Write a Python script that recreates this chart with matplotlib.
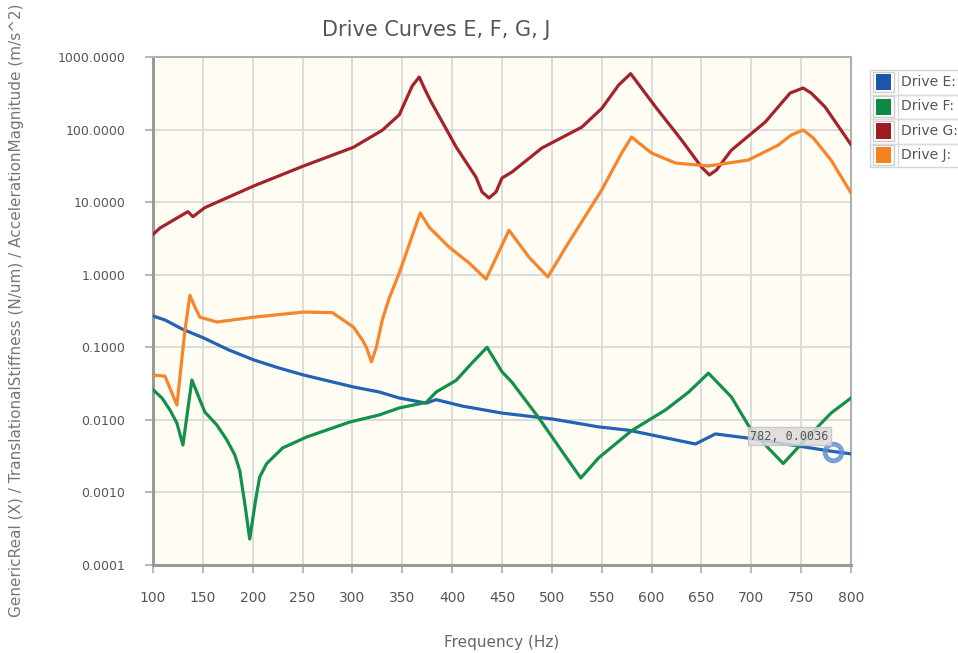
import numpy as np
import matplotlib
matplotlib.use('Agg')
import matplotlib.pyplot as plt
from matplotlib.patches import Rectangle
from matplotlib.ticker import FixedLocator, FuncFormatter, NullLocator

# data (frequency in Hz, magnitude)
freqE = [100, 112, 129, 151, 176, 201, 226, 251, 301, 327, 347, 374, 384, 410, 450, 500, 547, 577, 644, 664, 697,
         780, 800]
valE = [0.27, 0.238, 0.179, 0.134, 0.092, 0.067, 0.052, 0.0415, 0.0284, 0.0242, 0.020, 0.017, 0.019, 0.0155,
        0.0124, 0.0103, 0.008, 0.0072, 0.00465, 0.0064, 0.0056, 0.0037, 0.0034]

freqF = [100, 109, 117, 124, 130, 139, 152, 164, 174, 182, 187, 192, 197, 203, 207, 214, 230, 254, 297, 327, 347,
         374, 384, 404, 420, 435, 450, 460, 487, 514, 529, 547, 580, 614, 637, 657, 680, 700, 732, 754, 780, 800]
valF = [0.026, 0.02, 0.0137, 0.009, 0.0045, 0.0354, 0.0128, 0.0085, 0.0053, 0.0033, 0.002, 0.00071, 0.000228,
        0.0008, 0.00163, 0.0025, 0.0041, 0.0058, 0.0093, 0.0117, 0.0146, 0.0174, 0.0242, 0.035, 0.061, 0.1, 0.046,
        0.033, 0.0106, 0.0031, 0.00158, 0.003, 0.0071, 0.0137, 0.024, 0.044, 0.0207, 0.0072, 0.0025, 0.0053,
        0.0124, 0.02]

freqG = [100, 107, 135, 140, 152, 201, 251, 301, 330, 347, 360, 367, 373, 379, 404, 424, 430, 437, 444, 450, 460,
         490, 530, 550, 567, 579, 589, 604, 630, 650, 658, 665, 680, 714, 739, 752, 760, 774, 800]
valG = [3.6, 4.4, 7.4, 6.3, 8.4, 16.7, 31.5, 57, 98, 160, 400, 530, 350, 240, 57.5, 22, 13.8, 11.4, 13.8, 21.5, 26,
        55.7, 108, 195, 411, 590, 386, 205, 72, 30.5, 23.7, 27.7, 52, 127, 319, 374, 319, 205, 62]

freqJ = [100, 112, 124, 132, 137, 142, 147, 164, 201, 251, 280, 301, 310, 314, 319, 324, 330, 337, 347, 368, 377,
         397, 417, 434, 457, 477, 496, 514, 550, 570, 580, 590, 600, 624, 657, 697, 727, 740, 752, 762, 780, 800]
valJ = [0.0415, 0.04, 0.016, 0.17, 0.52, 0.36, 0.26, 0.223, 0.26, 0.306, 0.3, 0.19, 0.126, 0.1, 0.063, 0.1, 0.24,
        0.48, 1.06, 7.1, 4.5, 2.4, 1.45, 0.87, 4.1, 1.75, 0.93, 2.4, 14.7, 47.5, 79, 61, 47.5, 34.6, 31.5, 38, 61,
        84, 98.6, 77, 38, 13.4]

names = ['Drive E:', 'Drive F:', 'Drive G:', 'Drive J:']
lineColors = ['#2462b4', '#15904a', '#a3232b', '#f6852b']
swatchColors = ['#1c56a8', '#0b8a42', '#9e1b20', '#f58220']

xTicks = list(range(100, 801, 50))
yTicks = [0.0001, 0.001, 0.01, 0.1, 1, 10, 100, 1000]

tipFreq, tipVal = 782, 0.0036

W, H = 958, 653
narrow = ['Liberation Sans Narrow', 'DejaVu Sans Condensed', 'DejaVu Sans']


def px(x, y):  # pixel position (from top-left) -> figure fraction
    return x / W, 1 - y / H


fig = plt.figure(figsize=(W / 100, H / 100), dpi=100)
fig.patch.set_facecolor('white')
l, b = px(153, 565)
r, t = px(851, 57)
ax = fig.add_axes([l, b, r - l, t - b])
ax.set_facecolor('#fffcf4')

series = [(freqE, valE), (freqF, valF), (freqG, valG), (freqJ, valJ)]
for (f, v), c in zip(series, lineColors):
    ax.plot(f, v, color=c, lw=2.3, solid_joinstyle='round', zorder=3)

ax.set_yscale('log')
ax.set_xlim(100, 800)
ax.set_ylim(1e-4, 1e3)
ax.xaxis.set_major_locator(FixedLocator(xTicks))
ax.yaxis.set_major_locator(FixedLocator(yTicks))
ax.yaxis.set_minor_locator(NullLocator())
ax.yaxis.set_major_formatter(FuncFormatter(lambda v, p: '%.4f' % v))
ax.grid(True, color='#d9d9d9', lw=1.3, zorder=0)
ax.set_axisbelow(True)

for side in ['left', 'bottom']:
    ax.spines[side].set_color('#9a9a9a')
    ax.spines[side].set_linewidth(2.2)
for side in ['top', 'right']:
    ax.spines[side].set_color('#b0b0b0')
    ax.spines[side].set_linewidth(1.5)

ax.tick_params(axis='y', length=6, width=1.2, color='#aaaaaa', pad=14, labelsize=9, labelcolor='#555555')
ax.tick_params(axis='x', length=6, width=1.2, color='#aaaaaa', pad=13, labelsize=10, labelcolor='#555555')
for lab in ax.get_xticklabels():
    lab.set_family(narrow)

# hover tooltip
ax.plot([tipFreq], [tipVal], 'o', ms=12, mfc='none', mec='#5f8fd4', mew=3.5, alpha=0.85, zorder=5)
ax.annotate('%d, %.4f' % (tipFreq, tipVal), xy=(tipFreq, tipVal), xytext=(-44, 16),
            textcoords='offset pixels', ha='center', va='center', family='DejaVu Sans Mono',
            fontsize=8.5, color='#555555', zorder=6,
            bbox=dict(boxstyle='square,pad=0.2', fc='#dcdcdc', ec='#c4c4c4', alpha=0.85))

# titles
fig.text(*px(436, 30), 'Drive Curves E, F, G, J', ha='center', va='center', fontsize=15,
         color='#555555', family=narrow)
fig.text(*px(502, 643), 'Frequency (Hz)', ha='center', va='center', fontsize=11,
         color='#666666', family=narrow)
fig.text(*px(17, 617), 'GenericReal (X) / TranslationalStiffness (N/um) / AccelerationMagnitude (m/s^2)',
         rotation=90, ha='center', va='bottom', fontsize=11, color='#777777')

# legend drawn as a small table at the right edge
def rect(x0, y0, x1, y1, **kw):
    x, y = px(x0, y1)
    fig.add_artist(Rectangle((x, y), (x1 - x0) / W, (y1 - y0) / H, transform=fig.transFigure, **kw))


rect(870, 70, 970, 167, fc='white', ec='#d4d4d4', lw=1)
for yy in [94.5, 119, 143.5]:
    rect(870, yy, 970, yy, fc='none', ec='#dcdcdc', lw=1)
rect(898, 70, 898, 167, fc='none', ec='#dcdcdc', lw=1)
rowY = [82, 106.5, 131, 155]
for yc, name, sc in zip(rowY, names, swatchColors):
    rect(873, yc - 10, 894, yc + 10, fc='white', ec='#cccccc', lw=1)
    rect(876, yc - 8, 891, yc + 8, fc=sc, ec='none')
    fig.text(*px(901, yc), name, ha='left', va='center', fontsize=10, color='#555555')

fig.savefig('out.png', dpi=100)
